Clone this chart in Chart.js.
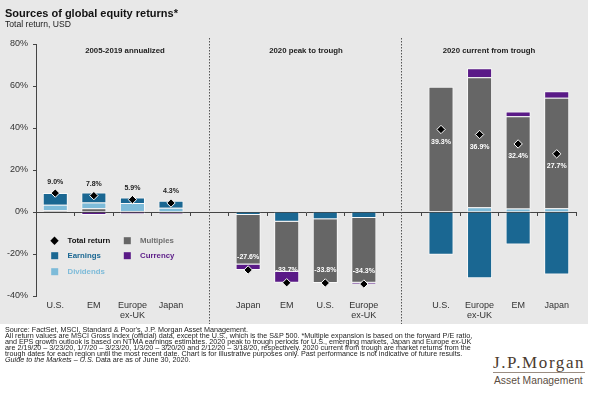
<!DOCTYPE html>
<html lang="en">
<head>
  <meta charset="UTF-8">
  <title>Sources of global equity returns</title>
  <script src="https://cdn.jsdelivr.net/npm/chart.js"></script>
  <style>
    body {
      margin: 0;
      width: 600px;
      height: 399px;
      overflow: hidden;
      position: relative;
      background: #fff;
      font-family: "Liberation Sans", Arial, sans-serif;
    }
    /* grey block behind title + chart */
    .panel {
      position: absolute;
      left: 0;
      top: 0;
      width: 588px;
      height: 324px;
      background: #e8e8e8;
    }
    .panel canvas { position: absolute; left: 0; top: 0; }
    h1 {
      position: absolute;
      left: 5px;
      top: 7px;
      margin: 0;
      font-size: 11px;
      line-height: 12px;
      color: #111;
    }
    .sub {
      position: absolute;
      left: 5px;
      top: 19px;
      font-size: 8.6px;
      line-height: 10px;
      color: #222;
    }
    .notes {
      position: absolute;
      left: 5px;
      top: 327px;
      font-size: 7.2px;
      line-height: 6px;
      color: #222;
      white-space: nowrap;
      background: #fff;
      will-change: transform;
      -webkit-font-smoothing: antialiased;
    }
    .logo {
      position: absolute;
      left: 493px;
      top: 354px;
      font-family: "Liberation Serif", "Times New Roman", serif;
      font-size: 17px;
      line-height: 17px;
      letter-spacing: 1.6px;
      color: #4b3b2f;
      border-bottom: 1px solid #9a8d82;
      padding-bottom: 1px;
    }
    .logo2 {
      position: absolute;
      left: 494px;
      top: 376px;
      font-size: 10.3px;
      line-height: 10.5px;
      color: #5b4d42;
    }
  </style>
</head>
<body>
  <div class="panel">
    <canvas id="chart" width="588" height="324"></canvas>
    <h1>Sources of global equity returns*</h1>
    <div class="sub">Total return, USD</div>
  </div>

  <div class="notes">
    Source: FactSet, MSCI, Standard &amp; Poor's, J.P. Morgan Asset Management.<br>
    All return values are MSCI Gross Index (official) data, except the U.S., which is the S&amp;P 500. *Multiple expansion is based on the forward P/E ratio,<br>
    and EPS growth outlook is based on NTMA earnings estimates. 2020 peak to trough periods for U.S., emerging markets, Japan and Europe ex-UK<br>
    are 2/19/20 – 3/23/20, 1/7/20 – 3/23/20, 1/3/20 – 3/20/20 and 2/12/20 – 3/18/20, respectively. 2020 current from trough are market returns from the<br>
    trough dates for each region until the most recent date. Chart is for illustrative purposes only. Past performance is not indicative of future results.<br>
    <i>Guide to the Markets – U.S.</i> Data are as of June 30, 2020.
  </div>
  <div class="logo">J.P.Morgan</div>
  <div class="logo2">Asset Management</div>

  <script>
    // categories: 3 panels of 4, with an empty slot between panels
    const labels = ["U.S.", "EM", ["Europe", "ex-UK"], "Japan", "",
                    "Japan", "EM", "U.S.", ["Europe", "ex-UK"], "",
                    "U.S.", ["Europe", "ex-UK"], "EM", "Japan"];

    // return components, %
    const earnings  = [5.6, 4.8, 2.6, 3.3, null, -1.4, -4.7, -3.4, -2.9, null, -20.4, -31.6, -15.5, -29.8];
    const dividends = [2.6, 2.7, 3.8, 2.0, null, 0, 0, 0, 0, null, 0.3, 2.3, 1.7, 1.8];
    const multiples = [0.8, 1.8, 0.5, -0.6, null, -23.6, -23.8, -30.4, -30.8, null, 59.4, 61.9, 43.9, 52.6];
    const currency  = [0, -1.4, -1.0, -0.4, null, -2.6, -5.2, 0, -0.6, null, 0, 4.3, 2.3, 3.1];
    const totals    = [9.0, 7.8, 5.9, 4.3, null, -27.6, -33.7, -33.8, -34.3, null, 39.3, 36.9, 32.4, 27.7];

    const yTicks = [-40, -20, 0, 20, 40, 60, 80];
    const panelTitles = ["2005-2019 annualized", "2020 peak to trough", "2020 current from trough"];

    const COLORS = {
      earnings: "#1a6792",
      dividends: "#7dbbd9",
      multiples: "#666666",
      currency: "#5a1a87"
    };

    // in the first panel multiples sit under dividends, elsewhere above
    const multiplesFirst = multiples.map((v, i) => i < 4 ? v : null);
    const multiplesLater = multiples.map((v, i) => i > 4 ? v : null);

    function barSet(label, data, color) {
      return {
        type: "bar",
        label: label,
        data: data,
        backgroundColor: color,
        borderColor: "rgba(255,255,255,0.75)",
        borderWidth: 1,
        xAxisID: "x",
        order: 1
      };
    }

    // dotted dividers + panel titles
    const panelDecor = {
      id: "panelDecor",
      afterDraw(chart) {
        const ctx = chart.ctx;
        const x = chart.scales.x;
        ctx.save();
        ctx.strokeStyle = "#555";
        ctx.lineWidth = 1;
        ctx.setLineDash([1.5, 1.5]);
        [4, 9].forEach(i => {
          const px = Math.round(x.getPixelForValue(i)) - 0.5;
          ctx.beginPath();
          ctx.moveTo(px, 38);
          ctx.lineTo(px, chart.height);
          ctx.stroke();
        });
        ctx.setLineDash([]);
        ctx.fillStyle = "#222";
        ctx.font = "bold 7.8px 'Liberation Sans', Arial, sans-serif";
        ctx.textAlign = "center";
        ctx.textBaseline = "middle";
        const titleX = [125, 306, 489];
        panelTitles.forEach((t, i) => ctx.fillText(t, titleX[i], 51));
        ctx.restore();
      }
    };

    // total return labels next to the diamonds
    const totalLabels = {
      id: "totalLabels",
      afterDatasetsDraw(chart) {
        const ctx = chart.ctx;
        const meta = chart.getDatasetMeta(5);
        ctx.save();
        ctx.font = "bold 7px 'Liberation Sans', Arial, sans-serif";
        ctx.textAlign = "center";
        ctx.textBaseline = "middle";
        totals.forEach((v, i) => {
          if (v === null) return;
          const pt = meta.data[i];
          let y;
          if (i < 4) { ctx.fillStyle = "#222"; y = pt.y - 11.5; }
          else if (i < 9) { ctx.fillStyle = "#fff"; y = pt.y - 12.5; }
          else { ctx.fillStyle = "#fff"; y = pt.y + 12.5; }
          ctx.fillText(v.toFixed(1) + "%", pt.x, y);
        });
        ctx.restore();
      }
    };

    // legend inside the first panel
    const innerLegend = {
      id: "innerLegend",
      afterDraw(chart) {
        const ctx = chart.ctx;
        ctx.save();
        ctx.font = "bold 7.8px 'Liberation Sans', Arial, sans-serif";
        ctx.textBaseline = "middle";
        ctx.textAlign = "left";
        // diamond
        ctx.fillStyle = "#000";
        ctx.beginPath();
        ctx.moveTo(54.5, 236.5);
        ctx.lineTo(58.7, 240.7);
        ctx.lineTo(54.5, 244.9);
        ctx.lineTo(50.3, 240.7);
        ctx.closePath();
        ctx.fill();
        ctx.fillStyle = "#111";
        ctx.fillText("Total return", 67.5, 241);
        const items = [
          ["Earnings", COLORS.earnings, 51.2, 255.7, "#1a6792"],
          ["Dividends", COLORS.dividends, 51.2, 271.7, "#7dbbd9"],
          ["Multiples", COLORS.multiples, 123.8, 240.7, "#6e6e6e"],
          ["Currency", COLORS.currency, 123.8, 255.7, "#5a1a87"]
        ];
        items.forEach(([t, c, x, y, tc]) => {
          ctx.fillStyle = c;
          ctx.fillRect(x, y - 3.5, 7, 7);
          ctx.fillStyle = tc;
          ctx.fillText(t, x + 16.3, y + 0.3);
        });
        ctx.restore();
      }
    };

    const ctx = document.getElementById("chart").getContext("2d");
    const chart = new Chart(ctx, {
      data: {
        labels: labels,
        datasets: [
          barSet("Multiples", multiplesFirst, COLORS.multiples),
          barSet("Dividends", dividends, COLORS.dividends),
          barSet("Earnings", earnings, COLORS.earnings),
          barSet("Multiples", multiplesLater, COLORS.multiples),
          barSet("Currency", currency, COLORS.currency),
          {
            type: "line",
            label: "Total return",
            data: totals,
            showLine: false,
            pointStyle: "rectRot",
            pointRadius: 4.2,
            pointBackgroundColor: "#000",
            pointBorderColor: "#fff",
            pointBorderWidth: 1,
            xAxisID: "x",
            order: 0
          }
        ]
      },
      options: {
        responsive: false,
        animation: false,
        layout: { padding: { top: 44, right: 12, left: 0, bottom: 0 } },
        datasets: {
          bar: { barPercentage: 0.65, categoryPercentage: 1 }
        },
        plugins: {
          legend: { display: false },
          tooltip: { enabled: false }
        },
        scales: {
          x: {
            type: "category",
            stacked: true,
            offset: true,
            grid: { display: false, drawTicks: false },
            border: { display: false },
            ticks: {
              color: "#333",
              padding: 4,
              maxRotation: 0,
              autoSkip: false,
              font: { family: "'Liberation Sans', Arial, sans-serif", size: 9, lineHeight: 1.12 }
            },
            afterFit: s => { s.height = 28; }
          },
          x2: {
            type: "category",
            axis: "x",
            position: { y: 0 },
            offset: true,
            grid: { offset: true, drawOnChartArea: false, tickLength: 3, color: "#444" },
            border: { display: true, color: "#444", width: 1 },
            ticks: { display: false }
          },
          y: {
            stacked: true,
            min: -40,
            max: 80,
            grid: { drawOnChartArea: false, tickLength: 3, color: "#444" },
            border: { display: true, color: "#444", width: 1 },
            afterBuildTicks: s => { s.ticks = yTicks.map(v => ({ value: v })); },
            ticks: {
              color: "#333",
              padding: 5,
              callback: v => v + "%",
              font: { family: "'Liberation Sans', Arial, sans-serif", size: 9 }
            },
            afterFit: s => { s.width = 36; }
          }
        }
      },
      plugins: [panelDecor, totalLabels, innerLegend]
    });
  </script>
</body>
</html>
